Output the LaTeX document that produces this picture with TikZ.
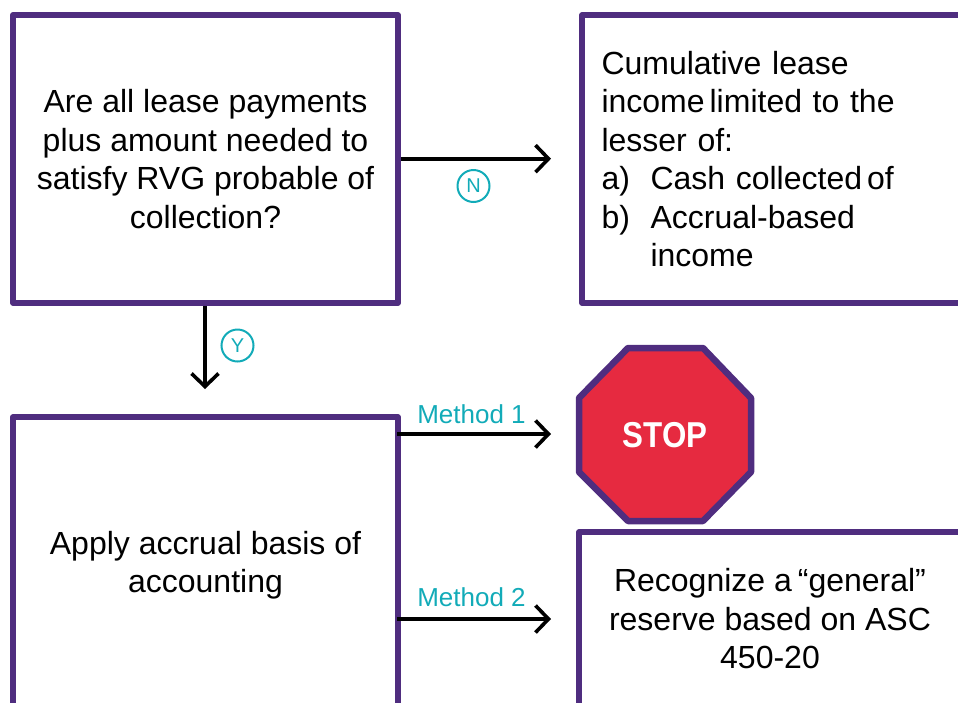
\documentclass[tikz,border=0pt]{standalone}
\usepackage{fontspec}
\setmainfont{Liberation Sans}
\newfontfamily\stopfont[FakeStretch=0.87]{Liberation Sans}
\usetikzlibrary{arrows.meta}
\definecolor{gtpurple}{HTML}{4F2D7F}
\definecolor{gtred}{HTML}{E62A40}
\definecolor{gtteal}{HTML}{12ABB8}
\tikzset{
  x=1pt,y=-1pt,
  flowbox/.style={draw=gtpurple,line width=5.8pt,fill=white,line join=round,inner sep=0pt,text=black,align=center,font=\fontsize{32}{38.5}\selectfont},
  flowarrow/.style={draw=black,line width=3.6pt,-{Straight Barb[length=13pt,width=27pt,line width=3.6pt]}},
  branch/.style={text=gtteal,font=\fontsize{26}{30}\selectfont,inner sep=0pt,anchor=base},
  answer/.style={circle,draw=gtteal,line width=2pt,minimum size=32pt,inner sep=0pt,text=gtteal,font=\fontsize{20}{24}\selectfont},
}
\begin{document}
\begin{tikzpicture}
\useasboundingbox (0,0) rectangle (958,702);
\clip (0,0) rectangle (958,702);
\node[flowbox,minimum width=385pt,minimum height=288pt] (q) at (205.5,159) {Are all lease payments\\plus amount needed to\\satisfy RVG probable of\\collection?};
\node[flowbox,minimum width=385pt,minimum height=288pt,align=left,text width=346pt] (limit) at (774.5,159) {Cumulative lease\\income\kern5pt limited to the\\lesser of:\\\makebox[49pt][l]{a)}Cash collected\kern5pt of\\\makebox[49pt][l]{b)}Accrual-based\\\makebox[49pt][l]{}income};
\node[flowbox,minimum width=385pt,minimum height=296pt] (apply) at (205.5,565) {Apply accrual basis of\\accounting};
\node[flowbox,minimum width=382pt,minimum height=174pt] (reserve) at (770,619) {Recognize a\kern6pt“general”\\reserve based on ASC\\450-20};
\draw[fill=gtred,draw=gtpurple,line width=6.5pt,line join=round] (628,348) -- (703,348) -- (751,398) -- (751,472) -- (703,521) -- (628,521) -- (579,472) -- (579,398) -- cycle;
\node[inner sep=0pt,text=white,font=\stopfont\bfseries\fontsize{36}{40}\selectfont] (stop) at (665,435) {STOP};
\coordinate (nend) at (551,158.7);
\coordinate (yend) at (205,389);
\coordinate (m1start) at (397,434);
\coordinate (m1end) at (551,434);
\coordinate (m2start) at (397,619);
\coordinate (m2end) at (551,619);
\draw[flowarrow] (q.east |- nend) -- (nend);
\draw[flowarrow] (yend |- q.south) -- (yend);
\draw[flowarrow] (m1start) -- (m1end);
\draw[flowarrow] (m2start) -- (m2end);
\node[answer] (n) at (473.5,186) {N};
\node[answer] (y) at (237.5,345.5) {Y};
\node[branch] (m1) at (471.5,423) {Method 1};
\node[branch] (m2) at (471.5,606) {Method 2};
\end{tikzpicture}
\end{document}
